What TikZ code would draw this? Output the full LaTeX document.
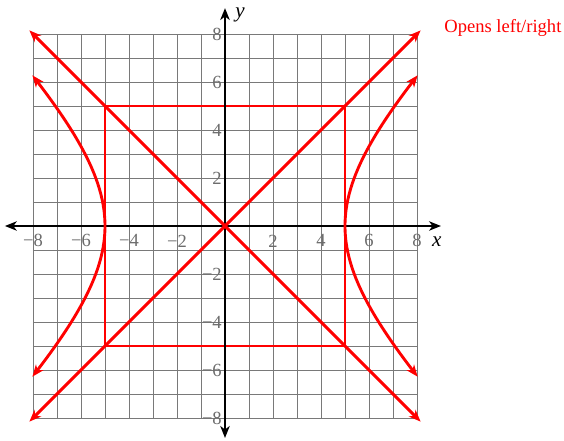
\documentclass[tikz,border=0pt]{standalone}
\usepackage{fontspec}
\setmainfont{Liberation Serif}
\usetikzlibrary{arrows.meta}

\begin{document}
\begin{tikzpicture}[x=0.5cm,y=0.5cm,>={Stealth[length=7pt,width=5.5pt,inset=2pt]},
  font=\fontsize{11}{13}\selectfont,
  gridline/.style={gray!95!black,line width=0.55pt},
  axisline/.style={black,line width=1.3pt,<->},
  redcurve/.style={red,line width=1.7pt,<->},
  ticklabel/.style={text=gray!85!black,inner sep=1pt}]
\useasboundingbox (-9.375,-8.917) rectangle (14.125,9.417);
% grid and box
\draw[gridline,step=0.5cm] (-8,-8) grid (8,8);
\draw[red,line width=0.7pt] (-5,-5) rectangle (5,5);
% axes
\coordinate (xmin) at (-9.17,0);
\coordinate (xmax) at (9,0);
\coordinate (ymin) at (0,-8.83);
\coordinate (ymax) at (0,9.08);
\draw[axisline] (xmin) -- (xmax);
\draw[axisline] (ymin) -- (ymax);
\node[anchor=west,inner sep=1pt,font=\fontsize{12.5}{14}\selectfont] (xlab) at (8.55,-0.67) {\textit{x}};
\node[anchor=west,inner sep=1pt,font=\fontsize{12.5}{14}\selectfont] (ylab) at (0.35,8.79) {\textit{y}};
\foreach \v/\t in {-8/−8,-6/−6,-4/−4,-2/−2,2/2,4/4,6/6,8/8} {
  \node[ticklabel] (xt\v) at (\v,-0.62) {\t};
  \node[ticklabel,anchor=east] (yt\v) at (-0.05,\v) {\t};
}
% asymptotes
\draw[redcurve] (-8.15,-8.15) -- (8.15,8.15);
\draw[redcurve] (-8.15,8.15) -- (8.15,-8.15);
% branches
\draw[redcurve,domain=-6.28:6.28,samples=80,variable=\y] plot ({sqrt(25+\y*\y)},\y);
\draw[redcurve,domain=-6.28:6.28,samples=80,variable=\y] plot ({-sqrt(25+\y*\y)},\y);
\node[red] (title) at (11.58,8.25) {Opens left/right};
\end{tikzpicture}
\end{document}
